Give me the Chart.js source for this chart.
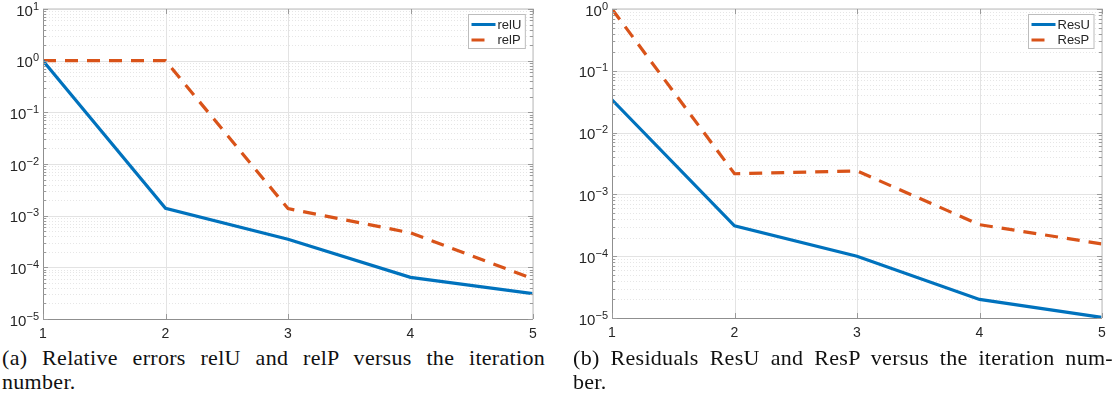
<!DOCTYPE html>
<html>
<head>
<meta charset="utf-8">
<script src="https://cdn.jsdelivr.net/npm/chart.js@4"></script>
<style>
  body { margin: 0; background: #fff; width: 1119px; height: 402px; overflow: hidden; position: relative; }
  .plot { position: absolute; top: 0; height: 340px; }
  .caption { position: absolute; font-family: "Liberation Serif", serif; font-size: 22px; letter-spacing: 0.3px; color: #111; width: 543px; }
  .caption div { line-height: 24px; white-space: nowrap; }
  .caption .full { text-align: justify; text-align-last: justify; white-space: normal; }
</style>
</head>
<body>

<div class="plot" style="left:0; width:560px;"><canvas id="chartA" width="560" height="340"></canvas></div>
<div class="plot" style="left:559px; width:560px;"><canvas id="chartB" width="560" height="340"></canvas></div>

<div class="caption" style="left:2px; top:346px;">
  <div class="full">(a) Relative errors relU and relP versus the iteration</div>
  <div>number.</div>
</div>
<div class="caption" style="left:573px; top:346px; width:540px;">
  <div class="full">(b) Residuals ResU and ResP versus the iteration num-</div>
  <div>ber.</div>
</div>

<script>
// iteration numbers on the x axis
const iterations = [1, 2, 3, 4, 5];

// (a) relative errors
const relU = [1, 1.39e-3, 3.5e-4, 6.4e-5, 3.1e-5];
const relP = [1, 1, 1.37e-3, 4.65e-4, 6.0e-5];

// (b) residuals
const resU = [3.4e-2, 3.1e-4, 1.0e-4, 2.0e-5, 1.02e-5];
const resP = [1, 2.16e-3, 2.4e-3, 3.24e-4, 1.58e-4];

// y tick labels, as powers of ten
const expsA = [-5, -4, -3, -2, -1, 0, 1];
const expsB = [-5, -4, -3, -2, -1, 0];

const blue = '#0072BD';
const orange = '#D95319';
const textColor = '#262626';
const fontName = '"Liberation Sans", Arial, sans-serif';

// grid, box, inward ticks, y labels and legend in the matlab look
const matlabAxes = {
    id: 'matlabAxes',
    beforeDatasetsDraw(chart) {
        const ctx = chart.ctx;
        const a = chart.chartArea;
        const x = chart.scales.x;
        const y = chart.scales.y;
        const exps = chart.options.plugins.matlabAxes.exps;
        ctx.save();
        // minor grid (dotted)
        ctx.strokeStyle = '#e6e6e6';
        ctx.lineWidth = 1;
        ctx.setLineDash([1, 2]);
        for (let i = 0; i < exps.length - 1; i++) {
            for (let k = 2; k <= 9; k++) {
                const py = Math.round(y.getPixelForValue(k * Math.pow(10, exps[i]))) + 0.5;
                ctx.beginPath();
                ctx.moveTo(a.left, py);
                ctx.lineTo(a.right, py);
                ctx.stroke();
            }
        }
        // major grid
        ctx.setLineDash([]);
        ctx.strokeStyle = '#e3e3e3';
        exps.forEach(e => {
            const py = Math.round(y.getPixelForValue(Math.pow(10, e))) + 0.5;
            ctx.beginPath();
            ctx.moveTo(a.left, py);
            ctx.lineTo(a.right, py);
            ctx.stroke();
        });
        iterations.forEach(v => {
            const px = Math.round(x.getPixelForValue(v)) + 0.5;
            ctx.beginPath();
            ctx.moveTo(px, a.top);
            ctx.lineTo(px, a.bottom);
            ctx.stroke();
        });
        ctx.restore();
    },
    afterDatasetsDraw(chart) {
        const ctx = chart.ctx;
        const a = chart.chartArea;
        const x = chart.scales.x;
        const y = chart.scales.y;
        const exps = chart.options.plugins.matlabAxes.exps;
        ctx.save();

        // box: light top/right, darker left/bottom
        ctx.strokeStyle = '#d2d2d2';
        ctx.lineWidth = 1.5;
        ctx.beginPath();
        ctx.moveTo(a.left, a.top);
        ctx.lineTo(a.right, a.top);
        ctx.lineTo(a.right, a.bottom);
        ctx.stroke();

        ctx.strokeStyle = '#8f8f8f';
        ctx.lineWidth = 1;
        ctx.beginPath();
        ctx.moveTo(a.left + 0.5, a.top);
        ctx.lineTo(a.left + 0.5, a.bottom + 0.5);
        ctx.lineTo(a.right, a.bottom + 0.5);
        ctx.stroke();

        // inward tick marks
        ctx.strokeStyle = '#9a9a9a';
        ctx.beginPath();
        exps.forEach((e, i) => {
            const py = Math.round(y.getPixelForValue(Math.pow(10, e))) + 0.5;
            ctx.moveTo(a.left, py); ctx.lineTo(a.left + 5, py);
            ctx.moveTo(a.right, py); ctx.lineTo(a.right - 5, py);
            if (i < exps.length - 1) {
                for (let k = 2; k <= 9; k++) {
                    const my = Math.round(y.getPixelForValue(k * Math.pow(10, e))) + 0.5;
                    ctx.moveTo(a.left, my); ctx.lineTo(a.left + 3, my);
                    ctx.moveTo(a.right, my); ctx.lineTo(a.right - 3, my);
                }
            }
        });
        iterations.forEach(v => {
            const px = Math.round(x.getPixelForValue(v)) + 0.5;
            ctx.moveTo(px, a.bottom); ctx.lineTo(px, a.bottom - 5);
            ctx.moveTo(px, a.top); ctx.lineTo(px, a.top + 5);
        });
        ctx.stroke();

        // y labels 10^n
        ctx.fillStyle = textColor;
        ctx.textAlign = 'left';
        ctx.textBaseline = 'alphabetic';
        exps.forEach(e => {
            const py = y.getPixelForValue(Math.pow(10, e));
            const expText = String(e).replace('-', '\u2212');
            ctx.font = '11px ' + fontName;
            const ew = ctx.measureText(expText).width;
            ctx.font = '15px ' + fontName;
            const bw = ctx.measureText('10').width;
            const xr = a.left - 4;
            ctx.fillText('10', xr - ew - bw, py + 6.5);
            ctx.font = '11px ' + fontName;
            ctx.fillText(expText, xr - ew, py + 0.5);
        });

        // legend box, top right inside the axes
        const sets = chart.data.datasets;
        ctx.font = '13px ' + fontName;
        let tw = 0;
        sets.forEach(d => { tw = Math.max(tw, ctx.measureText(d.label).width); });
        const bw = 3 + 24 + 2 + tw + 4;
        const bh = 34;
        const bx = Math.round(a.right - 8 - bw) + 0.5;
        const by = Math.round(a.top + 5) + 0.5;
        ctx.fillStyle = '#fff';
        ctx.fillRect(bx, by, bw, bh);
        ctx.strokeStyle = '#bdbdbd';
        ctx.lineWidth = 1;
        ctx.strokeRect(bx, by, bw, bh);
        sets.forEach((d, i) => {
            const ry = by + 10 + i * 15.5;
            const dash = d.borderDash || [];
            const len = dash.length ? dash[0] : 24;
            ctx.strokeStyle = d.borderColor;
            ctx.lineWidth = 3;
            ctx.setLineDash([]);
            ctx.beginPath();
            ctx.moveTo(bx + 3, ry);
            ctx.lineTo(bx + 3 + len, ry);
            ctx.stroke();
            ctx.fillStyle = textColor;
            ctx.textBaseline = 'middle';
            ctx.fillText(d.label, bx + 3 + 24 + 2, ry + 0.5);
        });
        ctx.restore();
    }
};

function makeChart(id, labelA, dataA, labelB, dataB, exps, yWidth, padRight, xHeight) {
    const ctx = document.getElementById(id).getContext('2d');
    return new Chart(ctx, {
        type: 'line',
        data: {
            datasets: [{
                label: labelA,
                data: iterations.map((v, i) => ({ x: v, y: dataA[i] })),
                borderColor: blue,
                borderWidth: 3.2,
                pointRadius: 0,
                fill: false
            }, {
                label: labelB,
                data: iterations.map((v, i) => ({ x: v, y: dataB[i] })),
                borderColor: orange,
                borderWidth: 3.2,
                borderDash: [13, 9],
                pointRadius: 0,
                fill: false
            }]
        },
        options: {
            responsive: false,
            animation: false,
            layout: { padding: { top: 9, right: padRight, left: 0, bottom: 0 } },
            plugins: {
                legend: { display: false },
                tooltip: { enabled: false },
                matlabAxes: { exps: exps }
            },
            scales: {
                x: {
                    type: 'linear',
                    min: 1,
                    max: 5,
                    grid: { display: false, drawTicks: false },
                    border: { display: false },
                    ticks: {
                        stepSize: 1,
                        padding: 7,
                        color: textColor,
                        font: { family: fontName, size: 14 },
                        maxRotation: 0
                    },
                    afterFit: s => { s.height = xHeight; }
                },
                y: {
                    type: 'logarithmic',
                    min: Math.pow(10, exps[0]),
                    max: Math.pow(10, exps[exps.length - 1]),
                    grid: { display: false, drawTicks: false },
                    border: { display: false },
                    ticks: { display: false },
                    afterFit: s => { s.width = yWidth; }
                }
            }
        },
        plugins: [matlabAxes]
    });
}

makeChart('chartA', 'relU', relU, 'relP', relP, expsA, 43, 27, 21);
makeChart('chartB', 'ResU', resU, 'ResP', resP, expsB, 53, 17, 22);
</script>
</body>
</html>
